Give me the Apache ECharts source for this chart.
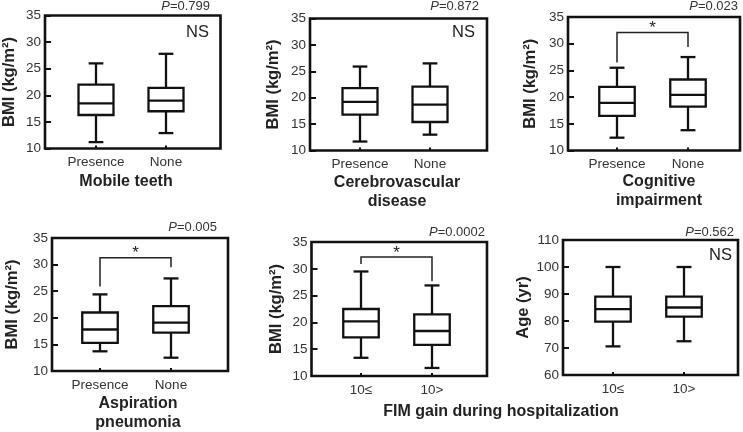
<!DOCTYPE html>
<html>
<head>
<meta charset="utf-8">
<script src="https://cdn.jsdelivr.net/npm/echarts@6/dist/echarts.min.js"></script>
<style>
html,body{margin:0;padding:0;background:#fff;}
#chart{width:743px;height:432px;}
</style>
</head>
<body>
<div id="chart"></div>
<script>
// ---------- data ----------
const catsPresence = ['Presence', 'None'];
const catsFIM = ['10\u2264', '10>'];
// [min, Q1, median, Q3, max]
const mobileTeeth = [[11.2, 16.3, 18.5, 22.0, 26.0], [12.9, 17.0, 19.0, 21.4, 27.8]];
const cerebrovascular = [[11.7, 16.8, 19.2, 21.8, 25.9], [13.0, 15.4, 18.7, 22.1, 26.5]];
const cognitive = [[12.4, 16.5, 18.9, 21.9, 25.5], [13.8, 18.2, 20.4, 23.3, 27.5]];
const aspiration = [[13.7, 15.3, 17.8, 21.0, 24.4], [12.5, 17.2, 19.1, 22.2, 27.4]];
const fimBMI = [[13.4, 17.2, 20.2, 22.5, 29.5], [11.5, 15.8, 18.4, 21.5, 26.9]];
const fimAge = [[70.6, 79.8, 84.4, 89.0, 100.0], [72.5, 81.6, 85.0, 89.0, 100.0]];
const pValues = ['0.799', '0.872', '0.023', '0.005', '0.0002', '0.562'];
// bracket: [left end, top, right end]
const bracketCognitive = [26.5, 32.1, 29.4];
const bracketAspiration = [25.9, 31.3, 29.5];
const bracketFIM = [30.9, 32.2, 27.7];
const bmiRange = [10, 35, 5];
const ageRange = [60, 110, 10];
const bmiName = 'BMI (kg/m\u00b2)';
const ageName = 'Age (yr)';

// ---------- layout ----------
const FONT = '"Liberation Sans", Arial, Helvetica, sans-serif';
const panels = [
  {frame: [44.5, 15.5, 220.5, 148.5], centers: [96, 166], cats: catsPresence, data: mobileTeeth, range: bmiRange, yname: bmiName, nameGap: 27,
   p: pValues[0], pRight: 210, pTop: 0, ns: [209, 32], title: 'Mobile teeth', titlePos: [126, 182]},
  {frame: [310, 18.5, 487, 150.5], centers: [360, 430], cats: catsPresence, data: cerebrovascular, range: bmiRange, yname: bmiName, nameGap: 28,
   p: pValues[1], pRight: 479, pTop: 0, ns: [475, 32], title: 'Cerebrovascular\ndisease', titlePos: [397, 192]},
  {frame: [568, 17, 740, 150.5], centers: [617, 688], cats: catsPresence, data: cognitive, range: bmiRange, yname: bmiName, nameGap: 29,
   p: pValues[2], pRight: 738, pTop: 0, bracket: bracketCognitive, title: 'Cognitive\nimpairment', titlePos: [659, 191]},
  {frame: [52, 238, 228, 371], centers: [100, 171], cats: catsPresence, data: aspiration, range: bmiRange, yname: bmiName, nameGap: 31,
   p: pValues[3], pRight: 217, pTop: 220.5, bracket: bracketAspiration, title: 'Aspiration\npneumonia', titlePos: [138, 413]},
  {frame: [311.5, 242, 487, 376], centers: [361, 432], cats: catsFIM, data: fimBMI, range: bmiRange, yname: bmiName, nameGap: 27,
   p: pValues[4], pRight: 485, pTop: 225.5, bracket: bracketFIM},
  {frame: [563, 240, 738, 375], centers: [613, 684], cats: catsFIM, data: fimAge, range: ageRange, yname: ageName, nameGap: 31,
   p: pValues[5], pRight: 734, pTop: 225.5, ns: [732, 255]}
];

const grids = [], xAxes = [], yAxes = [], series = [], titles = [], graphics = [];

function boxRender(params, api) {
  const x = api.value(0);
  const band = api.size([1, 0])[0];
  const hw = band * 0.25, cw = band * 0.105;
  const c = api.coord([x, api.value(3)]);
  const pMin = api.coord([x, api.value(1)])[1];
  const pQ1 = api.coord([x, api.value(2)])[1];
  const pMed = c[1];
  const pQ3 = api.coord([x, api.value(4)])[1];
  const pMax = api.coord([x, api.value(5)])[1];
  const cx = c[0];
  const st = {stroke: '#111', lineWidth: 2.3, fill: null};
  return {type: 'group', children: [
    {type: 'line', shape: {x1: cx, y1: pQ3, x2: cx, y2: pMax}, style: st},
    {type: 'line', shape: {x1: cx, y1: pQ1, x2: cx, y2: pMin}, style: st},
    {type: 'line', shape: {x1: cx - cw, y1: pMax, x2: cx + cw, y2: pMax}, style: st},
    {type: 'line', shape: {x1: cx - cw, y1: pMin, x2: cx + cw, y2: pMin}, style: st},
    {type: 'rect', shape: {x: cx - hw, y: pQ3, width: 2 * hw, height: pQ1 - pQ3}, style: {stroke: '#111', lineWidth: 2.3, fill: '#fff'}},
    {type: 'line', shape: {x1: cx - hw, y1: pMed, x2: cx + hw, y2: pMed}, style: st}
  ]};
}

function bracketRender(params, api) {
  const a = api.coord([api.value(0), api.value(2)]);
  const t1 = api.coord([api.value(0), api.value(3)]);
  const t2 = api.coord([api.value(1), api.value(3)]);
  const b = api.coord([api.value(1), api.value(4)]);
  return {type: 'group', children: [
    {type: 'polyline', shape: {points: [a, t1, t2, b]}, style: {stroke: '#222', lineWidth: 1.5, fill: null}},
    {type: 'text', x: (t1[0] + t2[0]) / 2, y: t1[1] - 4,
     style: {text: '*', fontSize: 17, fontFamily: FONT, fill: '#222', align: 'center', verticalAlign: 'middle'}}
  ]};
}

panels.forEach((p, i) => {
  const [l, t, r, b] = p.frame;
  const [mn, mx, iv] = p.range;
  const fg = grids.length;
  grids.push({left: l, top: t, width: r - l, height: b - t, show: true, borderColor: '#111', borderWidth: 2.6, backgroundColor: 'transparent', containLabel: false});
  xAxes.push({gridIndex: fg, type: 'value', show: false, min: 0, max: 1});
  yAxes.push({gridIndex: fg, type: 'value', min: mn, max: mx, interval: iv,
    name: p.yname, nameLocation: 'middle', nameGap: p.nameGap,
    nameTextStyle: {fontFamily: FONT, fontSize: 16.5, fontWeight: 'bold', color: '#222'},
    axisLine: {show: false}, splitLine: {show: false},
    axisTick: {show: true, inside: true, length: 6, lineStyle: {color: '#111', width: 2}},
    axisLabel: {margin: 4, fontFamily: FONT, fontSize: 13.5, color: '#333'}});
  const w = p.centers[1] - p.centers[0];
  const bg = grids.length;
  grids.push({left: p.centers[0] - w / 2, top: t, width: 2 * w, height: b - t, show: false, containLabel: false});
  xAxes.push({gridIndex: bg, type: 'category', data: p.cats,
    axisLine: {show: false},
    axisTick: {show: true, inside: true, alignWithLabel: true, interval: 0, length: 3, lineStyle: {color: '#111', width: 2}},
    axisLabel: {interval: 0, hideOverlap: false, margin: 7, fontFamily: FONT, fontSize: 13.5, color: '#333'}});
  yAxes.push({gridIndex: bg, type: 'value', show: false, min: mn, max: mx, interval: iv});
  const xi = xAxes.length - 1, yi = yAxes.length - 1;
  series.push({type: 'custom', xAxisIndex: xi, yAxisIndex: yi, renderItem: boxRender,
    encode: {x: 0, y: [1, 2, 3, 4, 5]},
    data: p.data.map((d, k) => [k].concat(d)), z: 5, silent: true});
  if (p.bracket) {
    series.push({type: 'custom', xAxisIndex: xi, yAxisIndex: yi, renderItem: bracketRender,
      encode: {x: [0, 1], y: [2, 3, 4]},
      data: [[0, 1].concat(p.bracket)], z: 6, silent: true});
  }
  titles.push({text: '{i|P}=' + p.p, right: 743 - p.pRight, top: p.pTop, padding: 0,
    textStyle: {fontFamily: FONT, fontSize: 13, fontWeight: 'normal', color: '#333',
      rich: {i: {fontFamily: FONT, fontSize: 13, fontStyle: 'italic', color: '#333'}}}});
  if (p.ns) {
    graphics.push({type: 'text', x: p.ns[0], y: p.ns[1],
      style: {text: 'NS', fontFamily: FONT, fontSize: 16.5, fill: '#222', align: 'right', verticalAlign: 'middle'}});
  }
  if (p.title) {
    graphics.push({type: 'text', x: p.titlePos[0], y: p.titlePos[1],
      style: {text: p.title, fontFamily: FONT, fontSize: 16, fontWeight: 'bold', fill: '#222', align: 'center', verticalAlign: 'middle', lineHeight: 19}});
  }
});
graphics.push({type: 'text', x: 501, y: 412,
  style: {text: 'FIM gain during hospitalization', fontFamily: FONT, fontSize: 16, fontWeight: 'bold', fill: '#222', align: 'center', verticalAlign: 'middle'}});

const chart = echarts.init(document.getElementById('chart'), null, {renderer: 'canvas'});
chart.setOption({
  animation: false,
  backgroundColor: '#fff',
  title: titles,
  grid: grids,
  xAxis: xAxes,
  yAxis: yAxes,
  series: series,
  graphic: graphics
});
</script>
</body>
</html>
